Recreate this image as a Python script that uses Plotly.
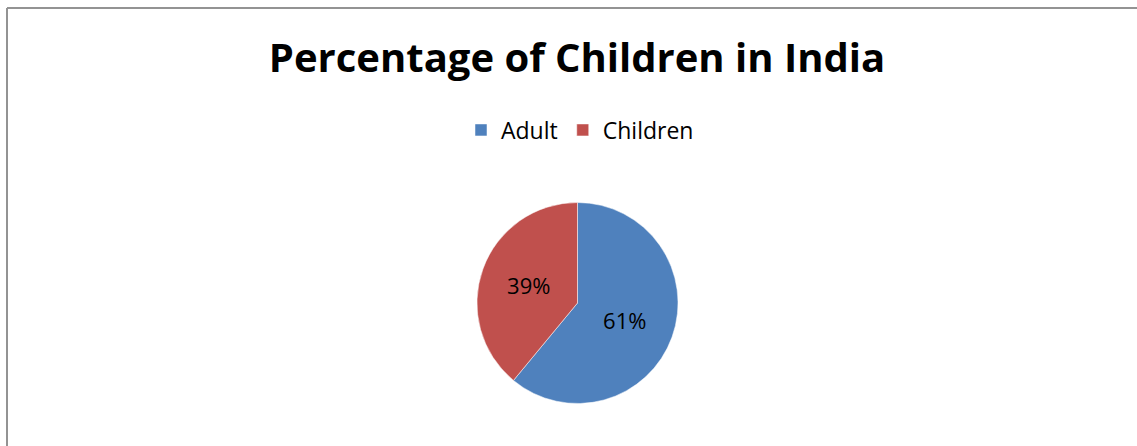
import plotly.graph_objects as go

labels = ["Adult", "Children"]
values = [61, 39]
colors = ["#4F81BD", "#C0504D"]
title_text = "Percentage of Children in India"
caption_text = "Table 2"

W, H = 1137, 446
cx, cy, r = 577.5, 303, 100.5

fig = go.Figure(go.Pie(
    labels=labels,
    values=values,
    marker=dict(colors=colors, line=dict(color="#ffffff", width=0.5)),
    sort=False,
    direction="clockwise",
    rotation=0,
    textinfo="percent",
    texttemplate="%{percent:.0%}",
    textposition="inside",
    insidetextorientation="horizontal",
    textfont=dict(family="Open Sans", size=22, color="#000000"),
    hoverinfo="label+percent",
    domain=dict(x=[(cx - r) / W, (cx + r) / W], y=[(H - cy - r) / H, (H - cy + r) / H]),
))

border = dict(color="#939393", width=2)
fig.update_layout(
    width=W, height=H,
    margin=dict(l=0, r=0, t=0, b=0),
    paper_bgcolor="#ffffff",
    plot_bgcolor="#ffffff",
    title=dict(text="<b>" + title_text + "</b>", x=577 / W, xanchor="center",
               y=1 - 58 / H, yanchor="middle",
               font=dict(family="Open Sans", size=40, color="#000000")),
    legend=dict(orientation="h", x=580 / W, xanchor="center", y=1 - 130 / H, yanchor="middle",
                font=dict(family="Open Sans", size=23, color="#000000"),
                itemwidth=30, traceorder="normal"),
    shapes=[
        dict(type="line", xref="paper", yref="paper", x0=7 / W, x1=7 / W, y0=-0.1, y1=1 - 8 / H, line=border),
        dict(type="line", xref="paper", yref="paper", x0=7 / W, x1=1.1, y0=1 - 8 / H, y1=1 - 8 / H, line=border),
    ],
    annotations=[dict(text=caption_text, xref="paper", yref="paper", x=-11 / W, xanchor="left",
                      y=1 - 6 / H, yanchor="bottom", showarrow=False,
                      font=dict(family="Liberation Serif", size=18, color="#000000"))],
)

fig.write_html(
    "out.html", config={"displayModeBar": False},
    post_script=("document.body.style.margin='0';"
                 "document.body.style.overflow='hidden';"
                 "document.documentElement.style.overflow='hidden';"),
)
